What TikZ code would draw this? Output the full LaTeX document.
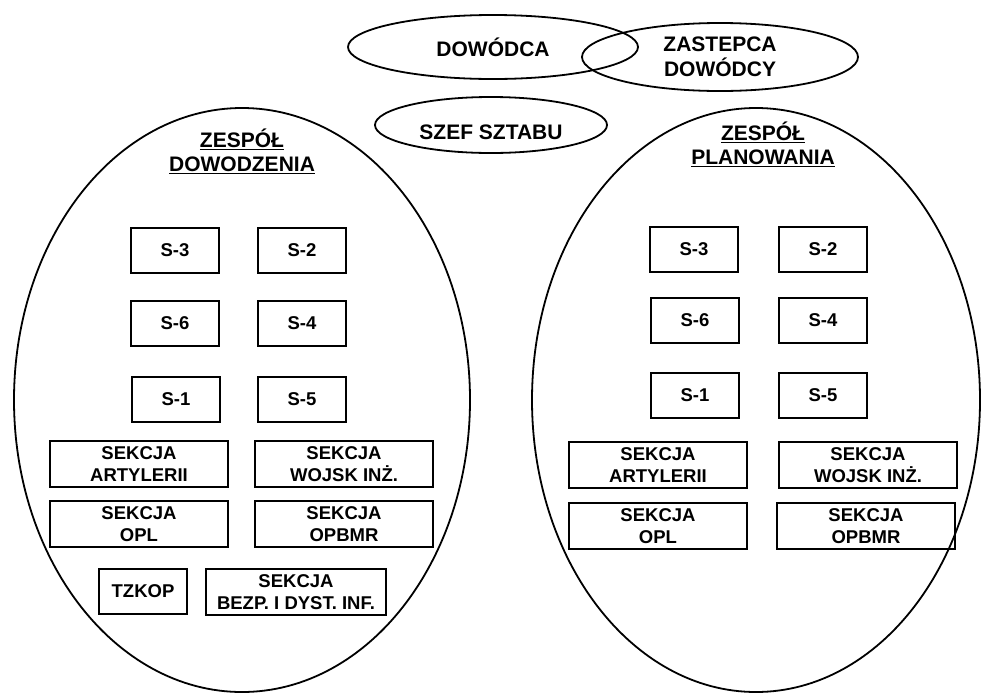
\documentclass[tikz,border=0pt]{standalone}
\usepackage{fontspec}
\setmainfont{Liberation Sans}
\usepackage{tikz}
\usetikzlibrary{shapes.geometric}
\tikzset{
  owal/.style={draw, ellipse, line width=1.8pt, inner sep=0pt, align=center,
    font=\fontsize{21}{25}\selectfont\bfseries},
  zespol/.style={draw, ellipse, line width=1.8pt, inner sep=0pt},
  tytul/.style={align=center, inner sep=0pt, font=\fontsize{21}{24}\selectfont\bfseries},
  komorka/.style={draw, rectangle, line width=2pt, inner sep=0pt,
    minimum width=88pt, minimum height=45pt, font=\fontsize{18.5}{22}\selectfont\bfseries},
  sekcja/.style={komorka, minimum width=178pt, minimum height=46pt, align=center}
}
\begin{document}
\begin{tikzpicture}[x=1pt,y=-1pt]
\useasboundingbox (0,0) rectangle (981,694);
\node[owal, minimum width=290pt, minimum height=64pt] (dowodca) at (493,47) {DOWÓDCA};
\node[owal, minimum width=276pt, minimum height=68pt] (zastepca) at (720,57) {ZASTEPCA\\DOWÓDCY};
\node[owal, minimum width=232pt, minimum height=56pt, text height=28pt, text depth=0pt] (szef) at (491,125) {SZEF SZTABU};

\node[zespol, minimum width=456pt, minimum height=584pt] (zdow) at (242,400) {};
\node[zespol, minimum width=448pt, minimum height=584pt] (zplan) at (756,400) {};
\node[tytul] (zdowtyt) at (242,151) {\underline{ZESPÓŁ}\\\underline{DOWODZENIA}};
\node[tytul] (zplantyt) at (763,144) {\underline{ZESPÓŁ}\\\underline{PLANOWANIA}};

\node[komorka] (ds3) at (175,250) {S-3};
\node[komorka] (ds2) at (302,250) {S-2};
\node[komorka] (ds6) at (175,323) {S-6};
\node[komorka] (ds4) at (302,323) {S-4};
\node[komorka] (ds1) at (176,399) {S-1};
\node[komorka] (ds5) at (302,399) {S-5};
\node[sekcja] (dart) at (139,464) {SEKCJA\\ARTYLERII};
\node[sekcja] (dinz) at (344,464) {SEKCJA\\WOJSK INŻ.};
\node[sekcja] (dopl) at (139,524) {SEKCJA\\OPL};
\node[sekcja] (dopb) at (344,524) {SEKCJA\\OPBMR};
\node[komorka] (dtzk) at (143,591) {TZKOP};
\node[sekcja, minimum width=180pt] (dbezp) at (296,592) {SEKCJA\\BEZP. I DYST. INF.};

\node[komorka] (ps3) at (694,249) {S-3};
\node[komorka] (ps2) at (823,249) {S-2};
\node[komorka] (ps6) at (695,320) {S-6};
\node[komorka] (ps4) at (823,320) {S-4};
\node[komorka] (ps1) at (695,395) {S-1};
\node[komorka] (ps5) at (823,395) {S-5};
\node[sekcja] (part) at (658,465) {SEKCJA\\ARTYLERII};
\node[sekcja] (pinz) at (868,465) {SEKCJA\\WOJSK INŻ.};
\node[sekcja] (popl) at (658,526) {SEKCJA\\OPL};
\node[sekcja] (popb) at (866,526) {SEKCJA\\OPBMR};
\end{tikzpicture}
\end{document}
